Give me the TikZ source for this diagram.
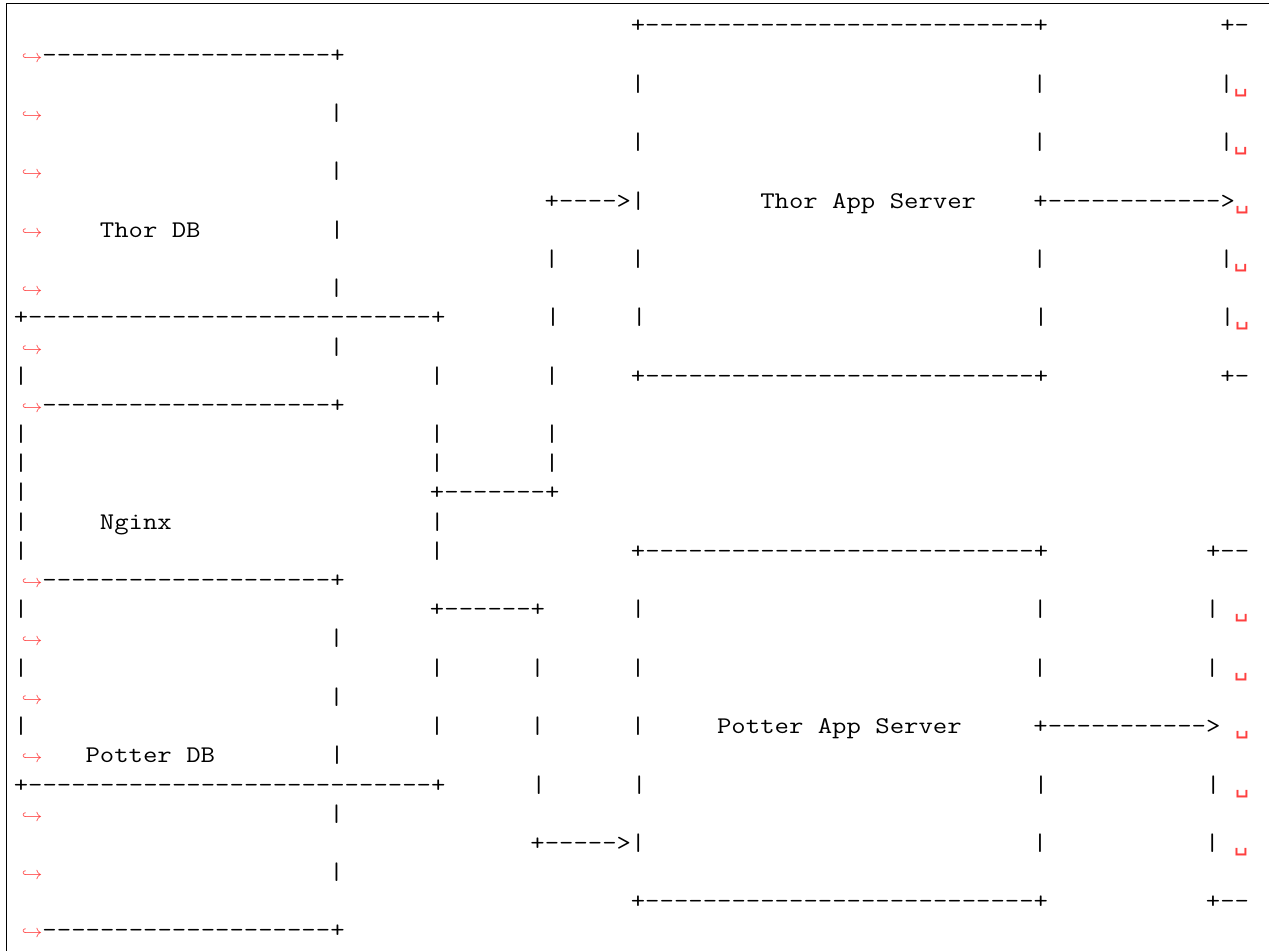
\documentclass[tikz,border=0pt]{standalone}
\usepackage{fontspec}
\setmonofont[FakeStretch=1.168]{Latin Modern Mono}
\newfontfamily\vsfont{DejaVu Sans Mono}
\usepackage{tikz}
\newlength\chw
\setlength\chw{7.175pt}
\newcommand\gap[1]{\hspace*{#1\chw}}
\newcommand\dashes[1]{\foreach\k in {1,...,#1}{-}}
\newcommand\wrapmark{\makebox[2\chw][r]{\textcolor{red!75}{\fontsize{9pt}{9pt}\selectfont$\hookrightarrow$}}}
\newcommand\vsp{\textcolor{red!75}{\vsfont ␣}}
\tikzstyle{txtrow} = [anchor=base west, inner sep=0pt, outer sep=0pt, font=\ttfamily\fontsize{11.96pt}{14pt}\selectfont]
\tikzstyle{frame} = [line width=0.8pt]

\begin{document}
\begin{tikzpicture}[x=0.5pt, y=-0.5pt]
	\useasboundingbox (0,0) rectangle (1269,951);
	% Frame of the listing
	\draw[frame] (6.3,951) -- (6.3,3.6) -- (1269,3.6);
	% Place rows
	\node[txtrow] (r1) at (13.8,33.0) {\gap{43}+\dashes{27}+\gap{12}+-};
	\node[txtrow] (r2) at (13.8,62.2) {\wrapmark\dashes{20}+};
	\node[txtrow] (r3) at (13.8,91.4) {\gap{43}|\gap{27}|\gap{12}|\vsp};
	\node[txtrow] (r4) at (13.8,120.6) {\wrapmark\gap{20}|};
	\node[txtrow] (r5) at (13.8,149.8) {\gap{43}|\gap{27}|\gap{12}|\vsp};
	\node[txtrow] (r6) at (13.8,178.9) {\wrapmark\gap{20}|};
	\node[txtrow] (r7) at (13.8,208.1) {\gap{37}+\dashes{4}>|\gap{8}Thor App Server\gap{4}+\dashes{12}>\vsp};
	\node[txtrow] (r8) at (13.8,237.3) {\wrapmark\gap{4}Thor DB\gap{9}|};
	\node[txtrow] (r9) at (13.8,266.5) {\gap{37}|\gap{5}|\gap{27}|\gap{12}|\vsp};
	\node[txtrow] (r10) at (13.8,295.7) {\wrapmark\gap{20}|};
	\node[txtrow] (r11) at (13.8,324.9) {+\dashes{28}+\gap{7}|\gap{5}|\gap{27}|\gap{12}|\vsp};
	\node[txtrow] (r12) at (13.8,354.1) {\wrapmark\gap{20}|};
	\node[txtrow] (r13) at (13.8,383.3) {|\gap{28}|\gap{7}|\gap{5}+\dashes{27}+\gap{12}+-};
	\node[txtrow] (r14) at (13.8,412.5) {\wrapmark\dashes{20}+};
	\node[txtrow] (r15) at (13.8,441.7) {|\gap{28}|\gap{7}|};
	\node[txtrow] (r16) at (13.8,470.9) {|\gap{28}|\gap{7}|};
	\node[txtrow] (r17) at (13.8,500.0) {|\gap{28}+\dashes{7}+};
	\node[txtrow] (r18) at (13.8,529.2) {|\gap{5}Nginx\gap{18}|};
	\node[txtrow] (r19) at (13.8,558.4) {|\gap{28}|\gap{13}+\dashes{27}+\gap{11}+--};
	\node[txtrow] (r20) at (13.8,587.6) {\wrapmark\dashes{20}+};
	\node[txtrow] (r21) at (13.8,616.8) {|\gap{28}+\dashes{6}+\gap{6}|\gap{27}|\gap{11}|\gap{1}\vsp};
	\node[txtrow] (r22) at (13.8,646.0) {\wrapmark\gap{20}|};
	\node[txtrow] (r23) at (13.8,675.2) {|\gap{28}|\gap{6}|\gap{6}|\gap{27}|\gap{11}|\gap{1}\vsp};
	\node[txtrow] (r24) at (13.8,704.4) {\wrapmark\gap{20}|};
	\node[txtrow] (r25) at (13.8,733.6) {|\gap{28}|\gap{6}|\gap{6}|\gap{5}Potter App Server\gap{5}+\dashes{11}>\gap{1}\vsp};
	\node[txtrow] (r26) at (13.8,762.8) {\wrapmark\gap{3}Potter DB\gap{8}|};
	\node[txtrow] (r27) at (13.8,792.0) {+\dashes{28}+\gap{6}|\gap{6}|\gap{27}|\gap{11}|\gap{1}\vsp};
	\node[txtrow] (r28) at (13.8,821.1) {\wrapmark\gap{20}|};
	\node[txtrow] (r29) at (13.8,850.3) {\gap{36}+\dashes{5}>|\gap{27}|\gap{11}|\gap{1}\vsp};
	\node[txtrow] (r30) at (13.8,879.5) {\wrapmark\gap{20}|};
	\node[txtrow] (r31) at (13.8,908.7) {\gap{43}+\dashes{27}+\gap{11}+--};
	\node[txtrow] (r32) at (13.8,937.9) {\wrapmark\dashes{20}+};
\end{tikzpicture}
\end{document}
